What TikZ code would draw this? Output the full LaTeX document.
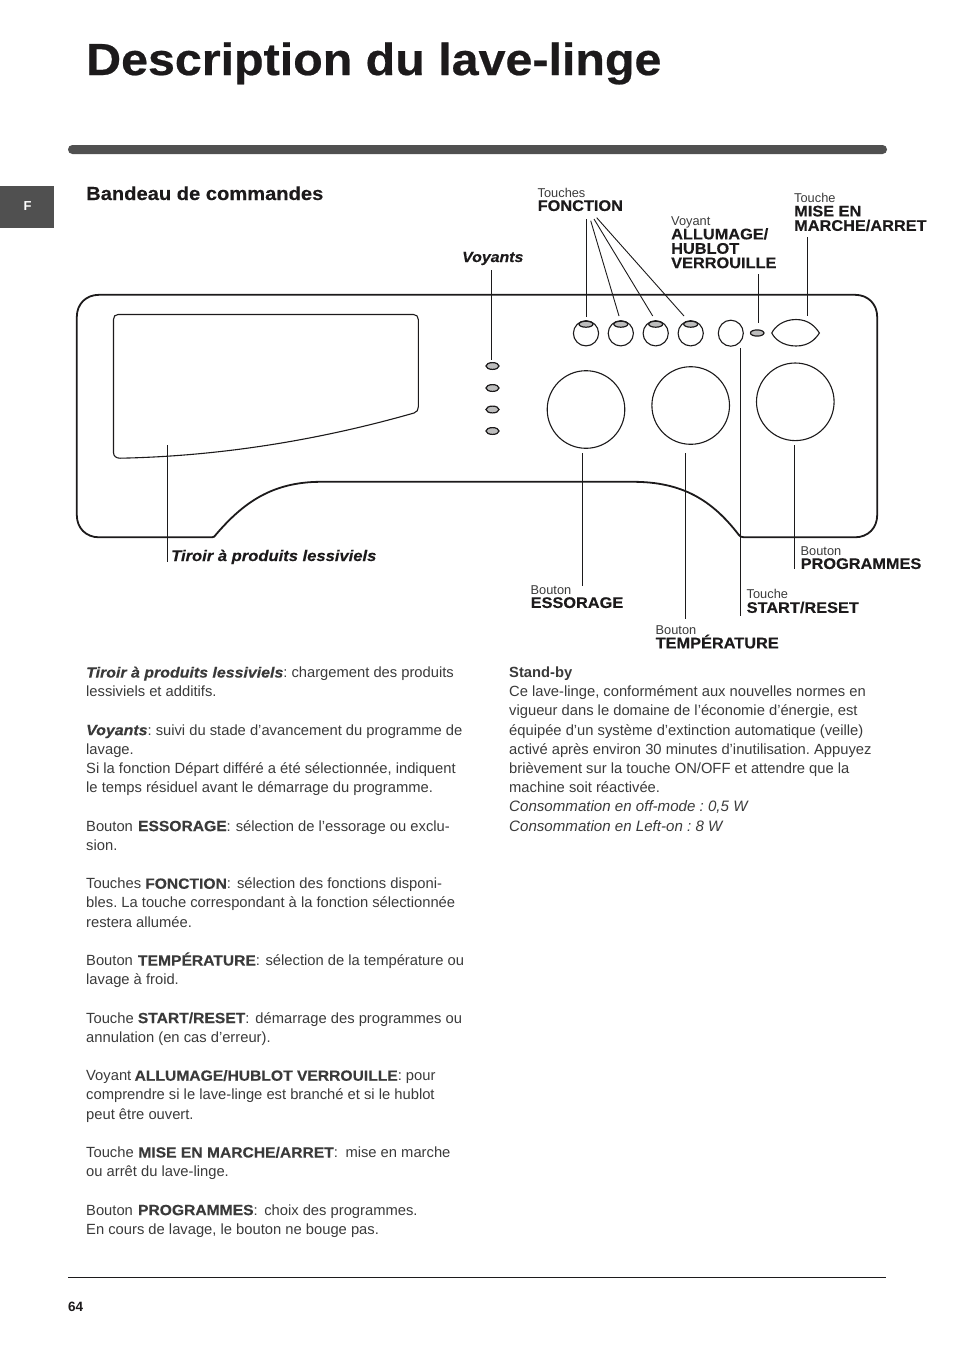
\documentclass[tikz,border=0pt]{standalone}
\usepackage{fontspec}
\usetikzlibrary{shapes.geometric}
\setmainfont{Liberation Sans}
\newfontfamily\heavyfont[FakeBold=0.35,FakeStretch=1.06]{Liberation Sans Bold}
\newfontfamily\heavyitfont[FakeBold=0.35,FakeStretch=1.08]{Liberation Sans Bold Italic}
\newfontfamily\titlefont[FakeBold=0.5,FakeStretch=1.075]{Liberation Sans Bold}
\newfontfamily\sectionfont[FakeBold=0.3,FakeStretch=1.065]{Liberation Sans Bold}
\newcommand{\hv}[1]{{\heavyfont #1}}
\newcommand{\hi}[1]{{\heavyitfont #1}}
\definecolor{ink}{HTML}{1C1A1B}
\definecolor{textgray}{HTML}{3A3A3A}
\definecolor{bargray}{HTML}{505050}
\definecolor{ledgray}{HTML}{BDBDBD}
\tikzset{
  outline/.style={draw=ink,line width=1.8pt},
  thinline/.style={draw=ink,line width=1.1pt},
  leader/.style={draw=ink,line width=0.9pt},
  knob/.style={draw=ink,line width=1.1pt,fill=white},
  led/.style={draw=ink,line width=1.2pt,fill=ledgray},
  body/.style={anchor=north west,inner sep=0pt,align=left,text=textgray,font=\fontsize{14.75}{19.2}\selectfont\frenchspacing},
  tag/.style={anchor=north west,inner sep=0pt,align=left,text=ink,font=\fontsize{15.4}{14.4}\selectfont},
  small/.style={anchor=base west,inner sep=0pt,text=textgray,font=\fontsize{12.8}{14}\selectfont},
}
\begin{document}
\begin{tikzpicture}[x=1pt,y=-1pt]
\useasboundingbox (0,0) rectangle (954,1350);
% header
\node[anchor=base west,inner sep=0pt,text=ink,font=\fontsize{45}{46}\selectfont\titlefont] (title) at (86,75) {Description du lave-linge};
\fill[bargray,rounded corners=4.4pt] (68,145) rectangle (887,154);
\fill[bargray] (0,186) rectangle (54,228);
\node[inner sep=0pt,text=white,font=\fontsize{13}{14}\selectfont\bfseries] (tabF) at (27.5,206) {F};
\node[anchor=base west,inner sep=0pt,text=ink,font=\fontsize{18.9}{20}\selectfont\sectionfont] (section) at (86,200) {Bandeau de commandes};
% panel
\draw[outline] (212,537.3) -- (99,537.3) .. controls (86,537.3) and (76.8,528) .. (76.8,515) -- (76.8,317)
  .. controls (76.8,304) and (86,294.8) .. (99,294.8) -- (855,294.8)
  .. controls (868,294.8) and (877.2,304) .. (877.2,317) -- (877.2,515)
  .. controls (877.2,528) and (868,537.3) .. (855,537.3) -- (744,537.3)
  .. controls (741,537.3) and (740,536.5) .. (738.5,534.5)
  .. controls (712,500) and (682,481.8) .. (633,481.8) -- (321,481.8)
  .. controls (272,481.8) and (243,503) .. (216,534.5)
  .. controls (214.5,536.5) and (214,537.3) .. (212,537.3) -- cycle;
% drawer
\draw[thinline] (118,314.5) -- (413.5,314.5) .. controls (416.5,314.5) and (418.3,316.5) .. (418.3,319.5) -- (418.3,407)
  .. controls (418.3,410) and (417,412) .. (414,413)
  .. controls (330,437) and (230,456) .. (120,458.2)
  .. controls (116,458.2) and (113.5,456) .. (113.5,452.5) -- (113.5,319.5)
  .. controls (113.5,316.5) and (115,314.5) .. (118,314.5) -- cycle;
% voyants
\foreach \n/\yy in {1/366,2/388,3/409.5,4/431}
  \node[led,ellipse,minimum width=13pt,minimum height=6.8pt,inner sep=0pt] (v\n) at (492.5,\yy) {};
% function keys
\foreach \n/\xx in {1/586,2/620.8,3/655.7,4/690.7}{
  \draw[knob] (\xx,333.3) circle[radius=12.6];
  \draw[led] (\xx,324.2) ellipse[x radius=7,y radius=3];
  \coordinate (f\n) at (\xx,320.8);
}
\node[knob,ellipse,minimum width=25pt,minimum height=26pt,inner sep=0pt] (startkey) at (730.8,333.2) {};
\node[led,ellipse,minimum width=13.5pt,minimum height=6.2pt,inner sep=0pt] (ledon) at (757.2,333) {};
\draw[knob] (771.8,333) .. controls (774.5,327) and (783,319.5) .. (796,319.5) .. controls (809,319.5) and (815.5,327) .. (819.4,333)
  .. controls (815.5,339) and (809,346) .. (796,346) .. controls (783,346) and (774.5,339) .. (771.8,333) -- cycle;
% large knobs
\draw[knob] (586,409.5) circle[radius=38.8];
\draw[knob] (690.7,405.5) circle[radius=38.8];
\draw[knob] (795.3,401.8) circle[radius=38.8];
% leader ends
\coordinate (a1) at (586.2,219); \coordinate (b1) at (586.2,317);
\coordinate (a2) at (590.7,220.7); \coordinate (b2) at (619,316);
\coordinate (a3) at (594,219); \coordinate (b3) at (652.7,316);
\coordinate (a4) at (596.7,217.7); \coordinate (b4) at (684,316);
\coordinate (a5) at (758.5,274); \coordinate (b5) at (758.5,322.5);
\coordinate (a6) at (807.5,237); \coordinate (b6) at (807.5,316);
\coordinate (a7) at (491.5,270); \coordinate (b7) at (491.5,360);
\coordinate (a8) at (167.5,445); \coordinate (b8) at (167.5,562);
\coordinate (a9) at (582.5,453); \coordinate (b9) at (582.5,585.7);
\coordinate (a10) at (685.5,453); \coordinate (b10) at (685.5,619);
\coordinate (a11) at (740.5,348); \coordinate (b11) at (740.5,615.7);
\coordinate (a12) at (794.5,445); \coordinate (b12) at (794.5,568.7);
\foreach \n in {1,...,12} \draw[leader] (a\n) -- (b\n);
% labels
\node[small] (l1a) at (537.5,197) {Touches};
\node[tag] (l1b) at (537.5,200) {\hv{FONCTION}};
\node[small] (l2a) at (671,225) {Voyant};
\node[tag] (l2b) at (671,228) {\hv{ALLUMAGE/}\\\hv{HUBLOT}\\\hv{VERROUILLE}};
\node[small] (l3a) at (794,202) {Touche};
\node[tag] (l3b) at (794,205.5) {\hv{MISE EN}\\\hv{MARCHE/ARRET}};
\node[anchor=base west,inner sep=0pt,text=ink,font=\fontsize{14.7}{16}\selectfont] (l4) at (462,262) {\hi{Voyants}};
\node[anchor=base west,inner sep=0pt,text=ink,font=\fontsize{15.35}{16}\selectfont] (l5) at (171,561) {\hi{Tiroir à produits lessiviels}};
\node[small] (l6a) at (530.5,594) {Bouton};
\node[tag] (l6b) at (530.5,597) {\hv{ESSORAGE}};
\node[small] (l7a) at (655.5,634) {Bouton};
\node[tag] (l7b) at (655.5,634.5) {\hv{TEMPÉRATURE}};
\node[small] (l8a) at (746.5,598) {Touche};
\node[tag] (l8b) at (746.5,601.5) {\hv{START/RESET}};
\node[small] (l9a) at (800.5,555) {Bouton};
\node[tag] (l9b) at (800.5,558) {\hv{PROGRAMMES}};
% body text
\node[body] (left) at (86,666.5) {\hi{Tiroir à produits lessiviels}: chargement des produits\\
lessiviels et additifs.\\[19.2pt]
\hi{Voyants}: suivi du stade d’avancement du programme de\\
lavage.\\
Si la fonction Départ différé a été sélectionnée, indiquent\\
le temps résiduel avant le démarrage du programme.\\[19.2pt]
Bouton \kern1pt\hv{ESSORAGE}: \kern1pt sélection de l’essorage ou exclu-\\
sion.\\[19.2pt]
Touches \hv{FONCTION}: \kern2pt sélection des fonctions disponi-\\
bles. La touche correspondant à la fonction sélectionnée\\
restera allumée.\\[19.2pt]
Bouton \kern1pt\hv{TEMPÉRATURE}: \kern1.5pt sélection de la température ou\\
lavage à froid.\\[19.2pt]
Touche \hv{START/RESET}: \kern2pt démarrage des programmes ou\\
annulation (en cas d’erreur).\\[19.2pt]
Voyant \kern-0.8pt\hv{ALLUMAGE/HUBLOT VERROUILLE}: pour\\
comprendre si le lave-linge est branché et si le hublot\\
peut être ouvert.\\[19.2pt]
Touche \kern0.5pt\hv{MISE EN MARCHE/ARRET}: \kern3.5pt mise en marche\\
ou arrêt du lave-linge.\\[19.2pt]
Bouton \kern1pt\hv{PROGRAMMES}: \kern2.5pt choix des programmes.\\
En cours de lavage, le bouton ne bouge pas.};
\node[body] (right) at (509,666.5) {\textbf{Stand-by}\\
Ce lave-linge, conformément aux nouvelles normes en\\
vigueur dans le domaine de l’économie d’énergie, est\\
équipée d’un système d’extinction automatique (veille)\\
activé après environ 30 minutes d’inutilisation. Appuyez\\
brièvement sur la touche ON/OFF et attendre que la\\
machine soit réactivée.\\
{\fontsize{15.1}{19.2}\selectfont\itshape Consommation en off-mode : 0,5 W}\\
{\fontsize{15.1}{19.2}\selectfont\itshape Consommation en Left-on : 8 W}};
% footer
\coordinate (r1) at (68,1277); \coordinate (r2) at (886,1277);
\draw[ink,line width=1pt] (r1) -- (r2);
\node[anchor=base west,inner sep=0pt,text=ink,font=\fontsize{13.5}{14}\selectfont\bfseries] (page) at (68,1311) {64};
\end{tikzpicture}
\end{document}
